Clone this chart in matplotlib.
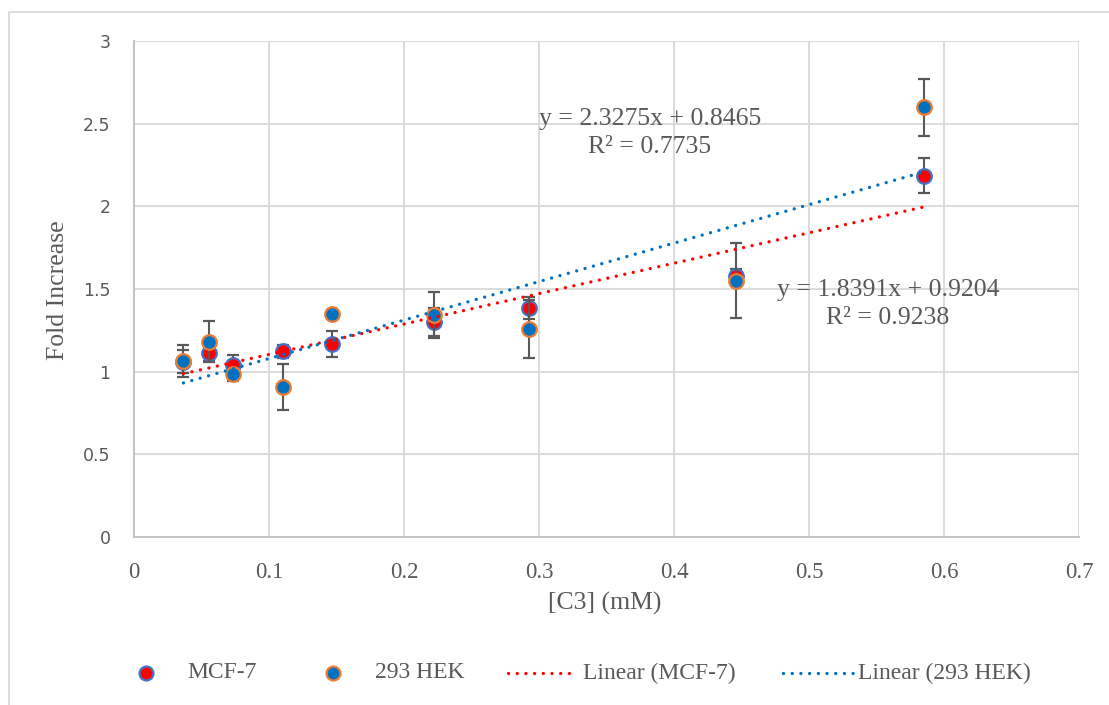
import numpy as np
import matplotlib
matplotlib.use("Agg")
import matplotlib.pyplot as plt
from matplotlib.lines import Line2D

# concentration of C3 (mM)
conc = [0.0366, 0.0556, 0.0732, 0.1100, 0.1464, 0.2224, 0.2928, 0.4460, 0.5850]

mcf7 = [1.060, 1.112, 1.039, 1.122, 1.166, 1.302, 1.383, 1.581, 2.185]
mcf7_err = [0.070, 0.050, 0.060, 0.040, 0.078, 0.085, 0.067, 0.040, 0.106]

hek = [1.065, 1.180, 0.984, 0.907, 1.351, 1.343, 1.258, 1.551, 2.598]
hek_err = [0.097, 0.124, 0.040, 0.137, 0.020, 0.141, 0.177, 0.227, 0.174]

# linear trendlines (slope, intercept, R^2)
fit_mcf7 = (1.8391, 0.9204, 0.9238)
fit_hek = (2.3275, 0.8465, 0.7735)

GREY = "#595959"
SERIF = "Liberation Serif"
RED, RED_EDGE = "#FF0000", "#4472C4"
BLUE, BLUE_EDGE = "#0070C0", "#ED7D31"
DOTS = (0, (0.01, 2.6))

W, H = 1109, 705
fig = plt.figure(figsize=(W / 100, H / 100), dpi=100)


def fx(px):
    return px / W


def fy(py):
    return 1 - py / H


ax = fig.add_axes([fx(134), fy(537), (1079 - 134) / W, (537 - 41) / H])

ax.errorbar(conc, mcf7, yerr=mcf7_err, fmt="o", color=RED, ms=10.5,
            mfc=RED, mec=RED_EDGE, mew=1.6, ecolor=GREY, elinewidth=1.5,
            capsize=4.5, capthick=1.5, zorder=3)
ax.errorbar(conc, hek, yerr=hek_err, fmt="o", color=BLUE, ms=10.5,
            mfc=BLUE, mec=BLUE_EDGE, mew=1.6, ecolor=GREY, elinewidth=1.5,
            capsize=4.5, capthick=1.5, zorder=4)

xs = np.array([min(conc), max(conc)])
for (m, b, r2), col in [(fit_mcf7, RED), (fit_hek, BLUE)]:
    ax.plot(xs, m * xs + b, color=col, lw=2.4, linestyle=DOTS,
            dash_capstyle="round", zorder=5)

ax.text(0.382, 2.444, "y = %.4fx + %.4f\nR² = %.4f" % fit_hek,
        ha="center", va="center", multialignment="center",
        fontsize=18.5, family=SERIF, color=GREY, linespacing=1.35, zorder=6)
ax.text(0.5585, 1.41, "y = %.4fx + %.4f\nR² = %.4f" % fit_mcf7,
        ha="center", va="center", multialignment="center",
        fontsize=18.5, family=SERIF, color=GREY, linespacing=1.35, zorder=6)

ax.set_xlim(0, 0.7)
ax.set_ylim(0, 3)
ax.set_xticks(np.arange(0, 0.71, 0.1))
ax.set_yticks(np.arange(0, 3.01, 0.5))
ax.set_xticklabels(["0", "0.1", "0.2", "0.3", "0.4", "0.5", "0.6", "0.7"],
                   family=SERIF, fontsize=16.5, color=GREY)
ax.set_yticklabels(["0", "0.5", "1", "1.5", "2", "2.5", "3"],
                   family="DejaVu Sans", fontsize=12.5, color=GREY)
ax.tick_params(axis="x", length=0, pad=18)
ax.tick_params(axis="y", length=0, pad=17)
ax.grid(True, color="#D9D9D9", lw=1.3)
ax.set_axisbelow(True)
for side in ["top", "right"]:
    ax.spines[side].set_visible(False)
for side in ["left", "bottom"]:
    ax.spines[side].set_color("#BFBFBF")
    ax.spines[side].set_linewidth(1.3)

fig.text(fx(58), fy(290), "Fold Increase", rotation=90, ha="center",
         va="center", family=SERIF, fontsize=18.5, color=GREY)
fig.text(fx(605), fy(603), "[C3] (mM)", ha="center", va="center",
         family=SERIF, fontsize=18.5, color=GREY)

# legend row
ly = fy(673)
fig.add_artist(Line2D([fx(146)], [ly], marker="o", ms=10, mfc=RED,
                      mec=RED_EDGE, mew=1.6, transform=fig.transFigure))
fig.add_artist(Line2D([fx(333)], [ly], marker="o", ms=10, mfc=BLUE,
                      mec=BLUE_EDGE, mew=1.6, transform=fig.transFigure))
fig.add_artist(Line2D([fx(508), fx(577)], [ly, ly], color=RED, lw=2.4,
                      linestyle=DOTS, dash_capstyle="round",
                      transform=fig.transFigure))
fig.add_artist(Line2D([fx(783), fx(853)], [ly, ly], color=BLUE, lw=2.4,
                      linestyle=DOTS, dash_capstyle="round",
                      transform=fig.transFigure))
for px, label in [(187, "MCF-7"), (375, "293 HEK"),
                  (583, "Linear (MCF-7)"), (858, "Linear (293 HEK)")]:
    fig.text(fx(px), ly, label, ha="left", va="center", family=SERIF,
             fontsize=17, color=GREY)

# chart frame
fig.add_artist(Line2D([fx(9), fx(9), 1], [0, fy(11.5), fy(11.5)],
                      color="#D9D9D9", lw=1.3, transform=fig.transFigure))

fig.savefig("out.png", dpi=100)
